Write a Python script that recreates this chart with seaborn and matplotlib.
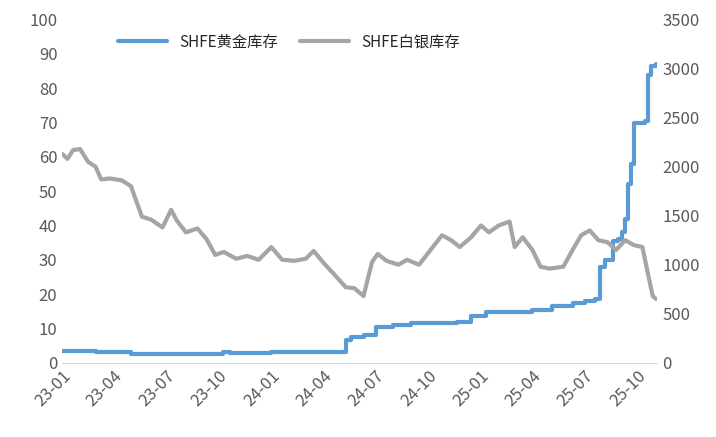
import pandas as pd
import seaborn as sns
import matplotlib.pyplot as plt
import matplotlib.dates as mdates

# SHFE gold inventory (left axis, tonnes) - step changes
gold_dates = ["2023-01-01", "2023-03-01", "2023-05-01", "2023-10-01", "2023-10-08", "2023-10-20",
              "2024-01-01", "2024-05-10", "2024-05-20", "2024-06-10", "2024-07-01", "2024-08-01",
              "2024-09-01", "2024-11-20", "2024-12-15", "2025-01-10", "2025-04-01", "2025-05-05",
              "2025-06-10", "2025-07-01", "2025-07-20", "2025-07-28", "2025-08-05", "2025-08-20",
              "2025-08-28", "2025-09-05", "2025-09-10", "2025-09-15", "2025-09-20", "2025-09-25",
              "2025-10-15", "2025-10-20", "2025-10-25", "2025-11-03"]
gold_vals = [3.3, 3.0, 2.6, 2.6, 3.2, 2.7,
             3.0, 6.5, 7.5, 8.0, 10.5, 11.0,
             11.7, 12.0, 13.5, 14.7, 15.3, 16.5,
             17.5, 18.0, 18.5, 28.0, 30.0, 35.5,
             36.0, 38.0, 42.0, 52.0, 58.0, 70.0,
             70.5, 84.0, 86.5, 87.0]

# SHFE silver inventory (right axis, tonnes)
silver_dates = ["2023-01-01", "2023-01-10", "2023-01-20", "2023-02-01", "2023-02-15", "2023-02-28",
                "2023-03-10", "2023-03-25", "2023-04-15", "2023-05-01", "2023-05-20", "2023-06-05",
                "2023-06-25", "2023-07-10", "2023-07-20", "2023-08-05", "2023-08-25", "2023-09-10",
                "2023-09-25", "2023-10-10", "2023-11-01", "2023-11-20", "2023-12-10", "2024-01-01",
                "2024-01-20", "2024-02-10", "2024-03-01", "2024-03-15", "2024-04-01", "2024-04-20",
                "2024-05-10", "2024-05-25", "2024-06-10", "2024-06-25", "2024-07-05", "2024-07-20",
                "2024-08-10", "2024-08-25", "2024-09-15", "2024-10-05", "2024-10-25", "2024-11-10",
                "2024-11-25", "2024-12-15", "2025-01-01", "2025-01-15", "2025-02-01", "2025-02-20",
                "2025-03-01", "2025-03-15", "2025-04-01", "2025-04-15", "2025-05-01", "2025-05-25",
                "2025-06-10", "2025-06-25", "2025-07-10", "2025-07-25", "2025-08-10", "2025-08-25",
                "2025-09-10", "2025-09-25", "2025-10-10", "2025-10-20", "2025-10-28", "2025-11-03"]
silver_vals = [2130, 2080, 2170, 2180, 2050, 2000,
               1870, 1880, 1860, 1800, 1490, 1460,
               1380, 1560, 1450, 1330, 1370, 1260,
               1100, 1130, 1060, 1090, 1050, 1180,
               1050, 1040, 1060, 1140, 1020, 900,
               770, 760, 680, 1030, 1110, 1040,
               1000, 1050, 1000, 1150, 1300, 1250,
               1180, 1280, 1400, 1330, 1400, 1440,
               1180, 1280, 1150, 980, 960, 980,
               1150, 1300, 1350, 1250, 1230, 1150,
               1250, 1200, 1180, 900, 680, 650]

gold = pd.DataFrame({"date": pd.to_datetime(gold_dates), "v": gold_vals})
silver = pd.DataFrame({"date": pd.to_datetime(silver_dates), "v": silver_vals})

sns.set_style("white")
plt.rcParams["font.family"] = ["Noto Sans CJK SC", "DejaVu Sans"]

fig, ax = plt.subplots(figsize=(7.16, 4.37), dpi=100)
ax2 = ax.twinx()
sns.lineplot(data=gold, x="date", y="v", ax=ax, color="#5B9BD5", linewidth=3,
             drawstyle="steps-post", label="SHFE黄金库存", legend=False)
sns.lineplot(data=silver, x="date", y="v", ax=ax2, color="#A5A5A5", linewidth=3,
             label="SHFE白银库存", legend=False)

ax.set_ylim(0, 100)
ax.set_yticks(range(0, 101, 10))
ax2.set_ylim(0, 3500)
ax2.set_yticks(range(0, 3501, 500))
ax.set_xlim(pd.Timestamp("2023-01-01"), pd.Timestamp("2025-11-05"))
ax.xaxis.set_major_locator(mdates.MonthLocator(bymonth=[1, 4, 7, 10]))
ax.xaxis.set_major_formatter(mdates.DateFormatter("%y-%m"))
plt.setp(ax.get_xticklabels(), rotation=45, ha="right", rotation_mode="anchor")
for a in (ax, ax2):
    a.set_xlabel("")
    a.set_ylabel("")
    a.tick_params(labelsize=12, colors="#595959", length=0)
    for s in a.spines.values():
        s.set_visible(False)
ax.spines["bottom"].set_visible(True)
ax.spines["bottom"].set_color("#D9D9D9")

h1, l1 = ax.get_legend_handles_labels()
h2, l2 = ax2.get_legend_handles_labels()
ax.legend(h1 + h2, l1 + l2, loc="upper left", bbox_to_anchor=(0.07, 1.0), ncol=2,
          frameon=False, fontsize=11, handlelength=3.2, columnspacing=1.5)

fig.subplots_adjust(left=0.087, right=0.918, top=0.955, bottom=0.17)
fig.savefig("out.png", dpi=100)
